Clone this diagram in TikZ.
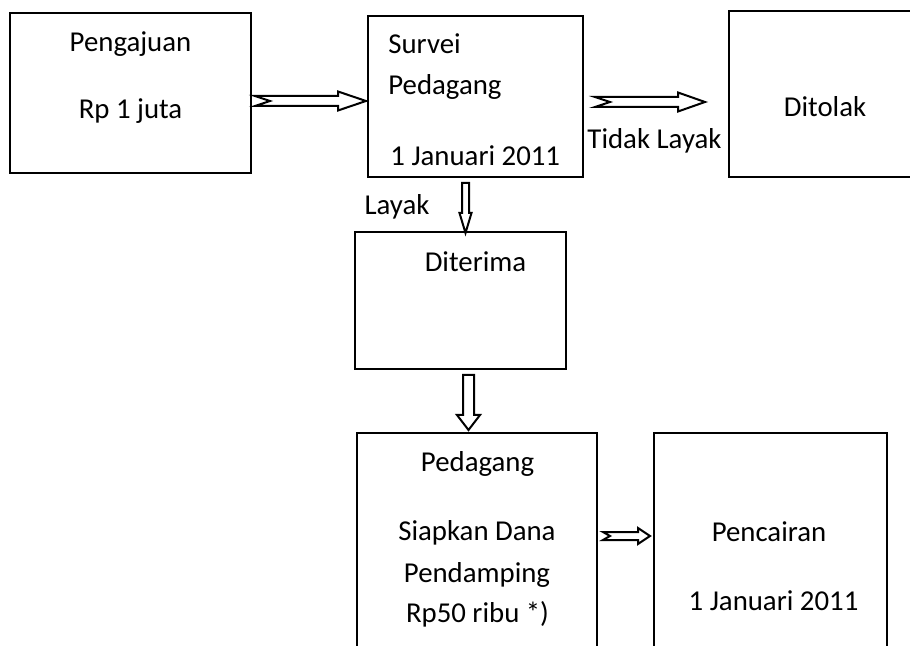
\documentclass[tikz,border=0pt]{standalone}
\usepackage{fontspec}
\setmainfont{Carlito}
\usepackage{tikz}
\usetikzlibrary{calc,positioning}

\tikzset{
  box/.style={draw,line width=1.1pt,inner sep=0pt,outer sep=0pt},
  lbl/.style={inner sep=0pt,anchor=base,font=\fontsize{14.4pt}{17pt}\selectfont},
  arrowline/.style={draw,fill=white,line width=1pt,line join=miter},
  % hollow block arrow: length/shaft/head width/head length/notch
  pics/hollowarrow/.style args={#1/#2/#3/#4/#5}{code={
    \path[arrowline] (0,#2) -- ({#1-#4},#2) -- ({#1-#4},#3) -- (#1,0)
      -- ({#1-#4},-#3) -- ({#1-#4},-#2) -- (0,-#2) -- (#5,0) -- cycle;
  }}
}

\begin{document}
\begin{tikzpicture}[x=0.5pt,y=-0.5pt]
\useasboundingbox (0,0) rectangle (910,646);
\clip (0,0) rectangle (910,646);
% boxes
\node[box,minimum width=120.5pt,minimum height=80pt] (peng) at (130.5,93) {};
\node[box,minimum width=107.5pt,minimum height=80.5pt] (survei) at (475.5,96.5) {};
\node[box,minimum width=115.5pt,minimum height=83pt] (tolak) at (844.5,94) {};
\node[box,minimum width=105.5pt,minimum height=68.5pt] (terima) at (460.5,300.5) {};
\node[box,minimum width=120pt,minimum height=133.5pt] (dagang) at (477,566.5) {};
\node[box,minimum width=116.5pt,minimum height=133.5pt] (cair) at (770.5,566.5) {};
% texts
\node[lbl] (pengT) at (130.5,52) {Pengajuan};
\node[lbl] (pengR) at (130.5,119) {Rp 1 juta};
\node[lbl,anchor=base west] (surT) at (388,54) {Survei};
\node[lbl,anchor=base west] (surP) at (388,95) {Pedagang};
\node[lbl,anchor=base west] (surD) at (390,166) {1 Januari 2011};
\node[lbl] (tolT) at (825,117) {Ditolak};
\node[lbl] (tidak) at (654.5,149) {Tidak Layak};
\node[lbl] (layak) at (397,215) {Layak};
\node[lbl] (terT) at (475.5,272) {Diterima};
\node[lbl] (dagT) at (477.5,472) {Pedagang};
\node[lbl] (dag1) at (477,540) {Siapkan Dana};
\node[lbl] (dag2) at (477,582) {Pendamping};
\node[lbl] (dag3) at (477.5,622) {Rp50 ribu *)};
\node[lbl] (cairT) at (769,541) {Pencairan};
\node[lbl] (cairD) at (773.5,610) {1 Januari 2011};
% arrows
\pic at ($(peng.east)+(4,8)$) {hollowarrow={111/5/9.5/28/15}};
\pic at ($(survei.east)+(12,5.5)$) {hollowarrow={110/5/9.5/27/15}};
\pic[rotate=-90] at ($(survei.south)+(-10,6)$) {hollowarrow={50/3.5/6/20/0}};
\pic[rotate=-90] at ($(terima.south)+(8,6)$) {hollowarrow={55/5.5/11.5/15/0}};
\pic at ($(dagang.east)+(6,-30.5)$) {hollowarrow={47/4/8/12/7}};
\end{tikzpicture}
\end{document}
